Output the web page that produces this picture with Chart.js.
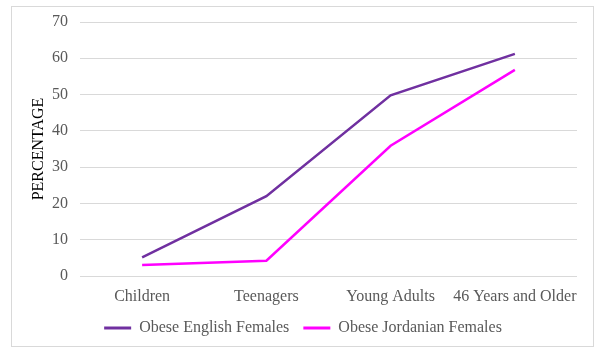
<!DOCTYPE html>
<html>
<head>
<meta charset="utf-8">
<script src="https://cdn.jsdelivr.net/npm/chart.js@4/dist/chart.umd.min.js"></script>
<style>
html,body{margin:0;padding:0;background:#fff;}
#wrap{width:606px;height:357px;position:relative;}
</style>
</head>
<body>
<div id="wrap"><canvas id="c" width="606" height="357"></canvas></div>
<script>
const categories = ["Children", "Teenagers", "Young Adults", "46 Years and Older"];
const englishFemales = [5.1, 22.0, 49.8, 61.2];
const jordanianFemales = [3.0, 4.2, 35.9, 56.8];
const seriesNames = ["Obese English Females", "Obese Jordanian Females"];
const seriesColors = ["#7030A0", "#FF00FF"];
const yTitle = "PERCENTAGE";

const framePlugin = {
  id: 'frame',
  beforeDraw(chart) {
    const ctx = chart.ctx;
    ctx.save();
    ctx.fillStyle = '#ffffff';
    ctx.fillRect(0, 0, chart.width, chart.height);
    ctx.strokeStyle = '#d9d9d9';
    ctx.lineWidth = 1;
    ctx.strokeRect(11.5, 6.5, 582, 340);
    ctx.restore();
  }
};

const font = { family: "'Liberation Serif', 'Times New Roman', serif", size: 16 };

new Chart(document.getElementById('c'), {
  type: 'line',
  data: {
    labels: categories,
    datasets: [
      { label: seriesNames[0], data: englishFemales, borderColor: seriesColors[0], backgroundColor: seriesColors[0], borderWidth: 2.5, pointRadius: 0, tension: 0 },
      { label: seriesNames[1], data: jordanianFemales, borderColor: seriesColors[1], backgroundColor: seriesColors[1], borderWidth: 2.5, pointRadius: 0, tension: 0 }
    ]
  },
  options: {
    responsive: false,
    animation: false,
    devicePixelRatio: 1,
    layout: { padding: { top: 22, right: 0, bottom: 11, left: 0 } },
    plugins: {
      legend: {
        position: 'bottom',
        labels: {
          font: font,
          color: '#595959',
          boxWidth: 27,
          boxHeight: 3,
          padding: 14,
          generateLabels(chart) {
            return chart.data.datasets.map((ds, i) => ({
              text: ds.label,
              fillStyle: ds.borderColor,
              strokeStyle: ds.borderColor,
              lineWidth: 0,
              fontColor: '#595959',
              hidden: false,
              datasetIndex: i
            }));
          }
        }
      },
      tooltip: { enabled: false }
    },
    scales: {
      x: {
        offset: true,
        grid: { display: false },
        border: { display: false },
        ticks: { font: font, color: '#595959', padding: 3, maxRotation: 0, autoSkip: false },
        afterFit(scale) { scale.height = 30; }
      },
      y: {
        min: 0,
        max: 70,
        ticks: { stepSize: 10, font: font, color: '#595959', padding: 12 },
        grid: { color: '#d9d9d9', drawTicks: false, lineWidth: 1 },
        border: { display: false },
        title: { display: true, text: yTitle, font: font, color: '#000000', padding: { top: 29, bottom: 0 } },
        afterFit(scale) { scale.width = 80; }
      },
      yRight: {
        position: 'right',
        display: true,
        min: 0,
        max: 70,
        grid: { display: false, drawOnChartArea: false },
        border: { display: false },
        ticks: { display: false },
        afterFit(scale) { scale.width = 29; }
      }
    }
  },
  plugins: [framePlugin]
});
</script>
</body>
</html>
